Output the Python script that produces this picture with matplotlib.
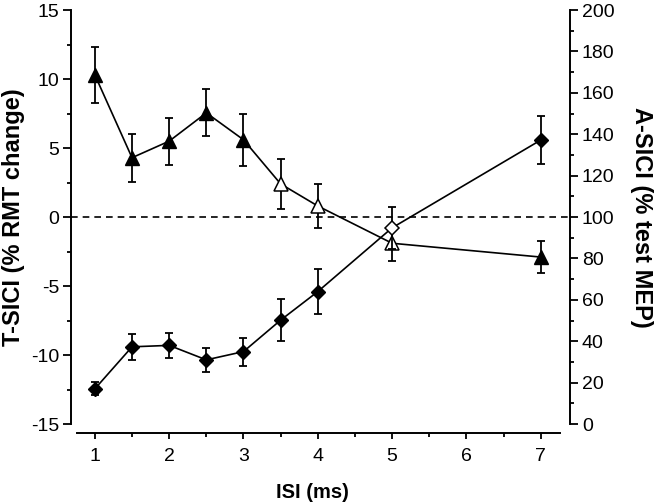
import numpy as np
import matplotlib.pyplot as plt
from matplotlib.ticker import MultipleLocator

plt.rcParams['font.family'] = ['Liberation Sans', 'DejaVu Sans']
plt.rcParams['axes.unicode_minus'] = False

# ISI values (ms)
isi = [1, 1.5, 2, 2.5, 3, 3.5, 4, 5, 7]

# T-SICI (% RMT change), left axis
t_sici = [10.3, 4.3, 5.5, 7.55, 5.6, 2.4, 0.8, -1.9, -2.9]
t_err = [2.0, 1.75, 1.7, 1.7, 1.9, 1.8, 1.6, 1.25, 1.15]
t_open = [False, False, False, False, False, True, True, True, False]

# A-SICI (% test MEP), right axis
a_sici = [17.0, 37.3, 38.0, 31.0, 35.0, 50.2, 64.0, 94.8, 137.2]
a_err = [3.1, 6.3, 6.0, 5.7, 6.8, 10.0, 11.0, 10.0, 11.7]
a_open = [False, False, False, False, False, False, False, True, False]

fig = plt.figure(figsize=(6.56, 5.03), dpi=100)
ax = fig.add_axes([0.108, 0.157, 0.761, 0.823])
ax2 = ax.twinx()


def draw_series(axis, x, y, err, is_open, marker, ms):
    x = np.asarray(x)
    y = np.asarray(y)
    is_open = np.asarray(is_open)
    axis.errorbar(x, y, yerr=err, fmt='none', ecolor='black', elinewidth=1.3,
                  capsize=3, capthick=1.3, zorder=3)
    axis.plot(x, y, color='black', lw=1.2, zorder=2)
    axis.plot(x[~is_open], y[~is_open], ls='none', marker=marker, ms=ms,
              mfc='black', mec='black', zorder=4)
    axis.plot(x[is_open], y[is_open], ls='none', marker=marker, ms=ms,
              mfc='white', mec='black', mew=1.1, zorder=4)


draw_series(ax, isi, t_sici, t_err, t_open, '^', 9.5)
draw_series(ax2, isi, a_sici, a_err, a_open, 'D', 7.5)

ax.axhline(0, color='black', lw=1.2, ls=(0, (4, 3)), zorder=1)

ax.set_xlim(0.677, 7.394)
ax.set_ylim(-15, 15)
ax2.set_ylim(0, 200)

ax.xaxis.set_major_locator(MultipleLocator(1))
ax.xaxis.set_minor_locator(MultipleLocator(0.5))
ax.yaxis.set_major_locator(MultipleLocator(5))
ax.yaxis.set_minor_locator(MultipleLocator(2.5))
ax2.yaxis.set_major_locator(MultipleLocator(20))
ax2.yaxis.set_minor_locator(MultipleLocator(10))

for a in (ax, ax2):
    a.spines['top'].set_visible(False)
    for s in a.spines.values():
        s.set_linewidth(1.4)
    a.tick_params(which='major', length=5.5, width=1.3, labelsize=14, pad=3, direction='out')
    a.tick_params(which='minor', length=3, width=1.3, direction='out')
ax2.spines['bottom'].set_visible(False)
ax2.spines['left'].set_visible(False)
ax.spines['right'].set_visible(False)
ax.spines['bottom'].set_position(('outward', 6.5))
ax.spines['bottom'].set_bounds(0.76, 7.26)
ax.tick_params(axis='x', which='major', length=4.5, pad=6)

ax.set_xticks([1, 2, 3, 4, 5, 6, 7])
ax.set_xlabel('ISI (ms)', fontsize=14.5, fontweight='bold')
ax.set_ylabel('T-SICI (% RMT change)', fontsize=17, fontweight='bold', va='center')
ax2.set_ylabel('A-SICI (% test MEP)', fontsize=17, fontweight='bold', rotation=270, va='center')
ax.xaxis.set_label_coords(0.483, -0.142)
ax.yaxis.set_label_coords(-0.114, 0.5)
ax2.yaxis.set_label_coords(1.144, 0.5)

fig.savefig('out.png', dpi=100)
